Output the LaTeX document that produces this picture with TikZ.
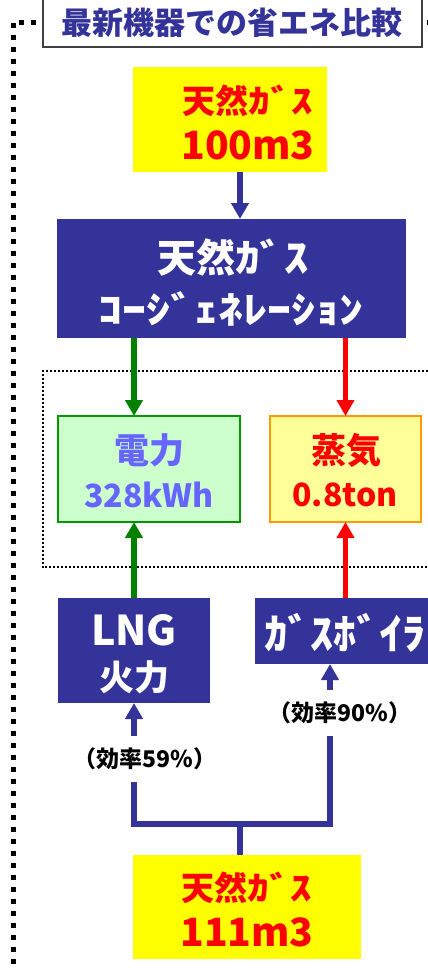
\documentclass[tikz,border=0pt]{standalone}
\usepackage{fontspec}
\setmainfont{Noto Sans CJK JP}
\usetikzlibrary{arrows.meta}
\newcommand{\fz}[1]{\fontsize{#1}{#1}\selectfont\bfseries}
\newcommand{\hw}[2][1.3]{\scalebox{#1}[1]{#2}}
\definecolor{navy}{HTML}{333399}
\definecolor{ylw}{HTML}{FFFF00}
\definecolor{rd}{HTML}{FF0000}
\definecolor{grn}{HTML}{008000}
\definecolor{lgrn}{HTML}{CCFFCC}
\definecolor{gborder}{HTML}{009900}
\definecolor{lylw}{HTML}{FFFF99}
\definecolor{orng}{HTML}{FF9900}
\definecolor{lblue}{HTML}{6666FF}
\definecolor{dgray}{HTML}{404040}
\begin{document}
\begin{tikzpicture}[x=1pt,y=-1pt,
  rect/.style={inner sep=0pt, outer sep=0pt, anchor=north west},
  ybox/.style={rect, fill=ylw},
  nbox/.style={rect, fill=navy},
  txt/.style={inner sep=0pt, outer sep=0pt},
  tip/.style={-{Triangle[width=17pt,length=16pt]}},
  conn/.style={line width=5.5pt},
  bigdots/.style={line width=5pt, dash pattern=on 5pt off 7pt},
  smalldots/.style={line width=2pt, dash pattern=on 2pt off 2pt},
  lbl/.style={fill=white, inner xsep=1pt, inner ysep=12pt, font=\fz{23}}]
\useasboundingbox (0,0) rectangle (428,970);
\clip (0,0) rectangle (428,970);

% dotted frames
\draw[bigdots] (432,22) -- (13,22) -- (13,975);
\draw[smalldots] (432,371) -- (42.5,371) -- (42.5,567) -- (432,567);

% title
\node[rect, draw=dgray, line width=1.6pt, fill=white, minimum width=379pt, minimum height=53pt] (titlebox) at (43,-6) {};
\node[txt, text=navy, font=\fz{31}] (title) at (232,23) {最新機器での省エネ比較};

% helper coordinates
\coordinate (ax) at (240,0);
\coordinate (gx) at (134,0);
\coordinate (bx) at (330,0);
\coordinate (bus) at (0,824);

% top gas
\node[ybox, minimum width=194pt, minimum height=105pt] (gas1) at (133,67) {};
\node[txt, text=rd, font=\fz{33}] (gas1a) at (248,101) {天然\hw{ｶﾞｽ}};
\node[txt, text=rd, font=\fz{39}] (gas1b) at (248,145) {100m3};

% cogeneration
\node[nbox, minimum width=349pt, minimum height=119pt] (cogen) at (57,219) {};
\node[txt, text=white, font=\fz{39}] (cogena) at (233,257) {天然\hw[1.25]{ｶﾞｽ}};
\node[txt, text=white, font=\fz{37}] (cogenb) at (231,309) {\hw[1.3]{ｺｰｼﾞｪﾈﾚｰｼｮﾝ}};

% electricity & steam
\node[rect, fill=lgrn, draw=gborder, line width=1.2pt, minimum width=182pt, minimum height=106pt] (elec) at (58,416) {};
\node[txt, text=lblue, font=\fz{35}] (eleca) at (149,450) {電力};
\node[txt, text=lblue, font=\fz{32}] (elecb) at (149,495) {328kWh};
\node[rect, fill=lylw, draw=orng, line width=1.2pt, minimum width=151pt, minimum height=106pt] (steam) at (270,416) {};
\node[txt, text=rd, font=\fz{35}] (steama) at (346,450) {蒸気};
\node[txt, text=rd, font=\fz{32}] (steamb) at (345,495) {0.8ton};

% LNG & boiler
\node[nbox, minimum width=152pt, minimum height=105pt] (lng) at (58,598) {};
\node[txt, text=white, font=\fz{41}] (lnga) at (134,630) {LNG};
\node[txt, text=white, font=\fz{35}] (lngb) at (134,677) {火力};
\node[nbox, minimum width=180pt, minimum height=66pt] (boiler) at (255,598) {};
\node[txt, text=white, font=\fz{42}] (boilera) at (345,633) {\hw[1.1]{ｶﾞｽﾎﾞｲﾗ}};

% bottom gas
\node[ybox, minimum width=228pt, minimum height=104pt] (gas2) at (133,855) {};
\node[txt, text=rd, font=\fz{33}] (gas2a) at (247,888) {天然\hw{ｶﾞｽ}};
\node[txt, text=rd, font=\fz{39}] (gas2b) at (247,932) {111m3};

% connectors
\draw[conn, navy, tip] (gas1.south -| ax) -- (cogen.north -| ax);
\draw[conn, grn, tip] (cogen.south -| gx) -- (elec.north -| gx);
\draw[conn, rd, tip] (cogen.south -| steam.north) -- (steam.north);
\draw[conn, grn, tip] (lng.north) -- (elec.south -| lng.north);
\draw[conn, rd, tip] (boiler.north -| steam.south) -- (steam.south);
\draw[conn, navy, line join=miter, {Triangle[width=17pt,length=16pt]}-{Triangle[width=17pt,length=16pt]}]
  (lng.south) -- (lng.south |- bus) -- (bx |- bus) -- (boiler.south -| bx);
\draw[conn, navy] (gas2.north -| ax) -- (ax |- bus);

% efficiency labels
\node[lbl] (eff1) at (145,759) {（効率59\%）};
\node[lbl] (eff2) at (340,713) {（効率90\%）};
\end{tikzpicture}
\end{document}
